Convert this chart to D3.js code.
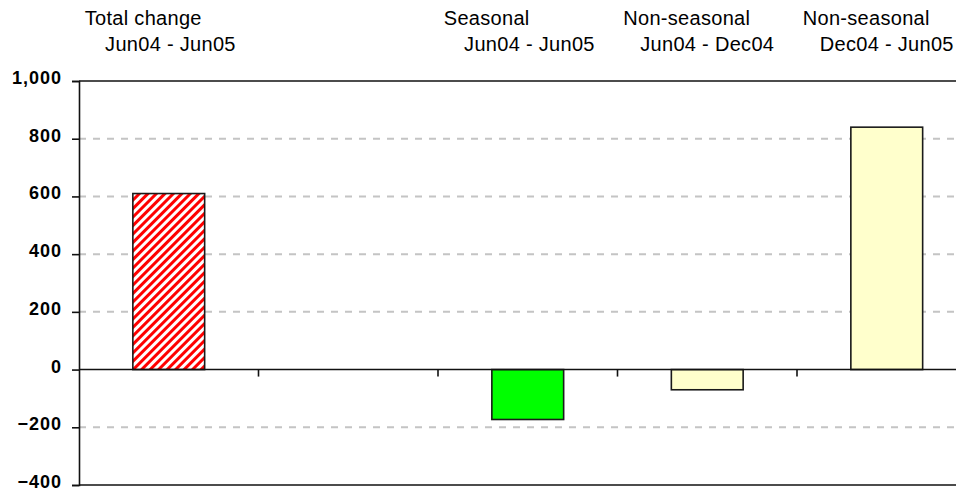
<!DOCTYPE html>
<html>
<head>
<meta charset="utf-8">
<script src="https://cdn.jsdelivr.net/npm/d3@7"></script>
<style>
    body { margin: 0; background: #fff; }
    svg { display: block; font-family: "Liberation Sans", Arial, sans-serif; }
    .ytick text { font-weight: bold; font-size: 18px; letter-spacing: 1px; }
    .head { font-size: 20px; letter-spacing: 0.3px; fill: #000; }
</style>
</head>
<body>
<div id="chart"></div>
<script>
// chart data
var categories = ["total", "gap", "seasonal", "nsFirst", "nsSecond"];
var values = [610, null, -173, -70, 840];
var fills = ["hatch", null, "#00ff00", "#ffffcc", "#ffffcc"];
var headTop = ["Total change", "", "Seasonal", "Non-seasonal", "Non-seasonal"];
var headBottom = ["Jun04 - Jun05", "", "Jun04 - Jun05", "Jun04 - Dec04", "Dec04 - Jun05"];
var yTicks = [-400, -200, 0, 200, 400, 600, 800, 1000];

function drawChart() {
    "use strict";
    var width = 956, height = 489;
    var left = 79, right = 976.5, top = 81, bottom = 485;

    var svg = d3.select("#chart").append("svg")
        .attr("width", width)
        .attr("height", height);

    // hatch pattern for the total bar
    svg.append("defs").append("pattern")
        .attr("id", "hatch")
        .attr("patternUnits", "userSpaceOnUse")
        .attr("width", 6)
        .attr("height", 6)
        .attr("patternTransform", "rotate(45)")
        .call(function(p) {
            p.append("rect").attr("width", 6).attr("height", 6).attr("fill", "#fff");
            p.append("rect").attr("width", 3).attr("height", 6).attr("fill", "#ff0000");
        });

    var x = d3.scaleBand()
        .domain(categories)
        .range([left, right])
        .paddingInner(0.6)
        .paddingOuter(0.3);
    var step = x.step();

    var y = d3.scaleLinear()
        .domain([-400, 1000])
        .range([bottom, top]);

    // dashed grid
    svg.append("g").selectAll("line")
        .data(yTicks.filter(function(v) { return v !== 0 && v !== 1000 && v !== -400; }))
        .enter().append("line")
        .attr("x1", left).attr("x2", right)
        .attr("y1", function(d) { return y(d); })
        .attr("y2", function(d) { return y(d); })
        .attr("stroke", "#c4c4c4")
        .attr("stroke-width", 2)
        .attr("stroke-dasharray", "7,7");

    // frame top / bottom
    [1000, -400].forEach(function(v) {
        svg.append("line")
            .attr("x1", left).attr("x2", right)
            .attr("y1", y(v)).attr("y2", y(v))
            .attr("stroke", "#111").attr("stroke-width", 1.6);
    });

    // bars
    var rows = categories.map(function(c, i) {
        return { key: c, value: values[i], fill: fills[i] };
    }).filter(function(d) { return d.value !== null; });

    svg.append("g").selectAll("rect")
        .data(rows)
        .enter().append("rect")
        .attr("x", function(d) { return x(d.key); })
        .attr("width", x.bandwidth())
        .attr("y", function(d) { return y(Math.max(0, d.value)); })
        .attr("height", function(d) { return Math.abs(y(d.value) - y(0)); })
        .attr("fill", function(d) { return d.fill === "hatch" ? "url(#hatch)" : d.fill; })
        .attr("stroke", "#1a1a1a")
        .attr("stroke-width", 1.6);

    // zero line with category ticks
    svg.append("line")
        .attr("x1", left).attr("x2", right)
        .attr("y1", y(0)).attr("y2", y(0))
        .attr("stroke", "#111").attr("stroke-width", 1.6);
    svg.append("g").selectAll("line")
        .data(categories.slice(1))
        .enter().append("line")
        .attr("x1", function(d) { return x(d) - step * 0.3; })
        .attr("x2", function(d) { return x(d) - step * 0.3; })
        .attr("y1", y(0))
        .attr("y2", y(0) + 7)
        .attr("stroke", "#111").attr("stroke-width", 1.6);

    // y axis
    var yAxis = d3.axisLeft(y)
        .tickValues(yTicks)
        .tickFormat(d3.format(","))
        .tickSize(7)
        .tickPadding(10);
    var ga = svg.append("g")
        .attr("class", "ytick")
        .attr("transform", "translate(" + left + ",0)")
        .call(yAxis);
    ga.select(".domain").attr("stroke", "#111").attr("stroke-width", 1.6);
    ga.selectAll(".tick line").attr("stroke", "#111").attr("stroke-width", 1.6);
    ga.selectAll(".tick text").attr("fill", "#000").attr("dy", "0.14em");

    // column headings
    var heads = svg.append("g");
    categories.forEach(function(c, i) {
        var cx = x(c) + x.bandwidth() / 2;
        heads.append("text").attr("class", "head")
            .attr("x", cx - 84).attr("y", 25)
            .text(headTop[i]);
        heads.append("text").attr("class", "head")
            .attr("x", cx + 67).attr("y", 51)
            .attr("text-anchor", "end")
            .text(headBottom[i]);
    });
}

drawChart();
</script>
</body>
</html>
